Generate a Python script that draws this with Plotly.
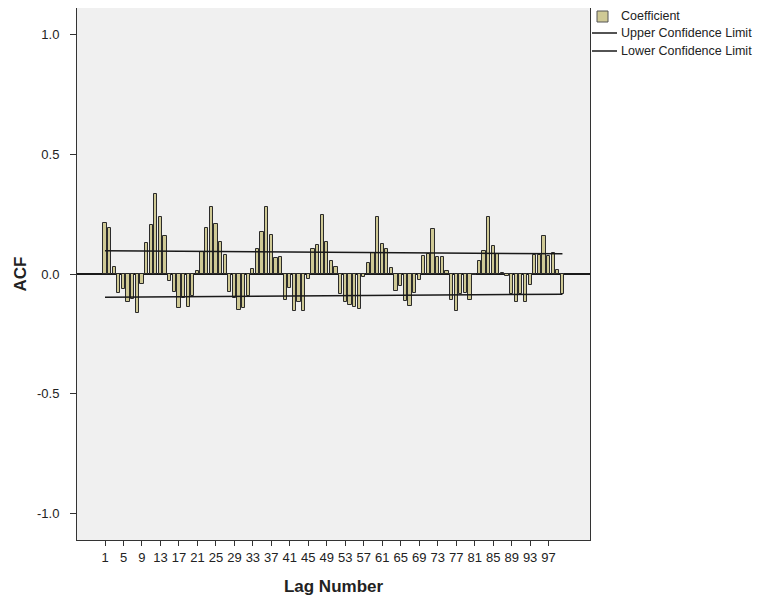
import plotly.graph_objects as go

lags = list(range(1, 101))
acf = [
    0.211, 0.194, 0.028, -0.080, -0.064, -0.115, -0.103, -0.162, -0.040, 0.128,
    0.206, 0.333, 0.238, 0.157, -0.028, -0.074, -0.143, -0.100, -0.136, -0.090,
    0.014, 0.093, 0.194, 0.279, 0.208, 0.135, 0.080, -0.074, -0.100, -0.150,
    -0.140, -0.093, 0.020, 0.104, 0.175, 0.279, 0.164, 0.068, 0.072, -0.110,
    -0.058, -0.155, -0.115, -0.153, -0.022, 0.105, 0.120, 0.246, 0.132, 0.055,
    0.030, -0.085, -0.118, -0.130, -0.138, -0.147, -0.011, 0.047, 0.089, 0.237,
    0.126, 0.105, 0.026, -0.072, -0.048, -0.112, -0.133, -0.078, -0.023, 0.075,
    0.085, 0.186, 0.073, 0.069, 0.012, -0.110, -0.155, -0.083, -0.080, -0.107,
    -0.004, 0.053, 0.097, 0.236, 0.117, 0.083, 0.005, -0.010, -0.083, -0.115,
    -0.083, -0.115, -0.044, 0.081, 0.081, 0.160, 0.075, 0.086, 0.015, -0.082,
]
ci_lags = [1, 50, 100]
upper_limit = [0.097, 0.091, 0.084]
lower_limit = [-0.097, -0.091, -0.084]
x_ticks = list(range(1, 98, 4))
y_ticks = [-1.0, -0.5, 0.0, 0.5, 1.0]
y_tick_text = ["-1.0", "-0.5", "0.0", "0.5", "1.0"]
legend_names = ["Coefficient", "Upper Confidence Limit", "Lower Confidence Limit"]

BAR_FILL = "#cfc995"
LINE_COL = "#1a1a1a"

fig = go.Figure()
fig.add_trace(go.Bar(
    x=lags, y=acf, name=legend_names[0], width=0.7,
    marker=dict(color=BAR_FILL, line=dict(color="#2b2b2b", width=1)),
))
fig.add_trace(go.Scatter(
    x=ci_lags, y=upper_limit, mode="lines", name=legend_names[1],
    line=dict(color=LINE_COL, width=1.5),
))
fig.add_trace(go.Scatter(
    x=ci_lags, y=lower_limit, mode="lines", name=legend_names[2],
    line=dict(color=LINE_COL, width=1.5),
))

# page body has an 8px margin; figure occupies window pixels 8..767 / 8..604
OFF = 8
FW, FH = 767 - OFF, 604 - OFF
# plot area in window pixels
L, R, T, B = 77, 590, 8, 540
W, H = R - L, B - T


def px(x):
    return (x - L) / W


def py(y):
    return (B - y) / H


shapes = [
    dict(type="rect", xref="paper", yref="paper",
         x0=px(597), x1=px(608), y0=py(22), y1=py(11),
         fillcolor=BAR_FILL, line=dict(color="#555", width=1)),
    dict(type="line", xref="paper", yref="paper",
         x0=px(592), x1=px(617), y0=py(33), y1=py(33),
         line=dict(color=LINE_COL, width=1.5)),
    dict(type="line", xref="paper", yref="paper",
         x0=px(592), x1=px(617), y0=py(51), y1=py(51),
         line=dict(color=LINE_COL, width=1.5)),
]
annotations = []
for name, yc in zip(legend_names, [16, 33, 51]):
    annotations.append(dict(
        text=name, xref="paper", yref="paper", x=px(619), y=py(yc),
        xanchor="left", yanchor="middle", showarrow=False,
        font=dict(size=12.5, color="#222"),
    ))

fig.update_layout(
    width=FW, height=FH,
    margin=dict(l=L - OFF, r=767 - R, t=T - OFF, b=604 - B, pad=0, autoexpand=False),
    paper_bgcolor="white", plot_bgcolor="#f0f0f0",
    font=dict(family="Liberation Sans, Arial, sans-serif", size=12, color="#222"),
    bargap=0,
    showlegend=False,
    shapes=shapes,
    annotations=annotations,
)
fig.update_xaxes(
    range=[-5.06, 105.96], tickvals=x_ticks, ticktext=[str(v) for v in x_ticks],
    showgrid=False, zeroline=False, showline=True, linecolor="#333", linewidth=1,
    mirror=True, ticks="outside", ticklen=5, tickcolor="#333",
    tickfont=dict(size=13, color="#222"),
    title=dict(text="<b>Lag Number</b>", font=dict(size=17, color="#222"), standoff=16),
)
fig.update_yaxes(
    range=[-1.11, 1.11], tickvals=y_ticks, ticktext=y_tick_text,
    showgrid=False, zeroline=True, zerolinecolor="#1a1a1a", zerolinewidth=1.5,
    showline=True, linecolor="#333", linewidth=1, mirror=True,
    ticks="outside", ticklen=6, tickcolor="#333", ticklabelstandoff=8,
    tickfont=dict(size=13, color="#222"),
    title=dict(text="<b>ACF</b>", font=dict(size=17, color="#222"), standoff=6),
)

fig.write_html("out.html")
